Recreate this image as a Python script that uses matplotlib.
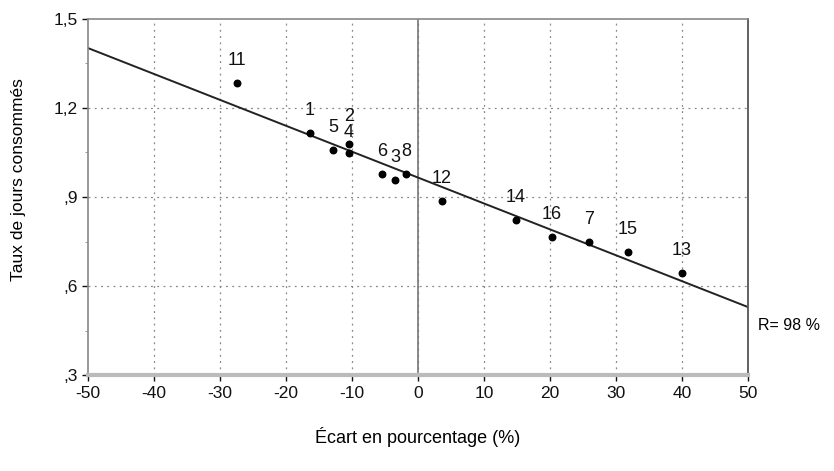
import matplotlib
matplotlib.use("Agg")
import matplotlib.pyplot as plt
from matplotlib.ticker import FixedLocator
import numpy as np

# data
labels = ["11", "1", "5", "2", "4", "6", "3", "8", "12", "14", "16", "7", "15", "13"]
ecart = [-27.4, -16.4, -12.9, -10.45, -10.45, -5.45, -3.5, -1.8, 3.6, 14.8, 20.3, 25.9, 31.8, 40.0]
taux = [1.284, 1.116, 1.058, 1.079, 1.048, 0.978, 0.957, 0.978, 0.887, 0.823, 0.765, 0.748, 0.715, 0.644]

# regression line
line_x = [-50, 50]
intercept = 0.9655
slope = -0.00873

yticks = [0.3, 0.6, 0.9, 1.2, 1.5]
ytick_labels = [",3", ",6", ",9", "1,2", "1,5"]
xticks = list(range(-50, 51, 10))

plt.rcParams['font.family'] = ['Liberation Sans', 'DejaVu Sans']

fig = plt.figure(figsize=(8.34, 4.71), dpi=100)
ax = fig.add_axes([88 / 834, 96 / 471, 660 / 834, 356 / 471])

ax.set_xlim(-50, 50)
ax.set_ylim(0.3, 1.5)

for t in xticks[1:-1]:
    ax.axvline(t, color="#888888", lw=0.9, ls=(0, (1.5, 3.5)), zorder=1)
for t in yticks[1:-1]:
    ax.axhline(t, color="#888888", lw=0.9, ls=(0, (1.5, 3.5)), zorder=1)
ax.axvline(0, color="#777777", lw=1.2, zorder=1)

lx = np.array(line_x)
ax.plot(lx, intercept + slope * lx, color="#222222", lw=1.4, zorder=2)

ax.scatter(ecart, taux, s=22, color="black", zorder=3)
for lab, x, y in zip(labels, ecart, taux):
    dy = {"2": 20, "4": 15}.get(lab, 16)
    ax.annotate(lab, (x, y), xytext=(0, dy), textcoords="offset points",
                ha="center", va="center", fontsize=13, color="#111111")

ax.set_xticks(xticks)
ax.set_xticklabels([str(t) for t in xticks])
ax.set_yticks(yticks)
ax.set_yticklabels(ytick_labels)
ax.yaxis.set_minor_locator(FixedLocator([0.45, 0.75, 1.05, 1.35]))
ax.tick_params(axis="both", labelsize=12.5, colors="#111111", length=4, width=1)
ax.tick_params(axis="y", which="minor", length=2, color="#888888")
ax.tick_params(axis="x", pad=4)

for side in ["top", "left"]:
    ax.spines[side].set_color("#888888")
    ax.spines[side].set_linewidth(1.2)
ax.spines["right"].set_color("#555555")
ax.spines["right"].set_linewidth(1.3)
ax.spines["bottom"].set_color("#bbbbbb")
ax.spines["bottom"].set_linewidth(3)

ax.set_ylabel("Taux de jours consommés", fontsize=12.5)
ax.yaxis.set_label_coords(-0.094, 0.55)
fig.text(418 / 834, 1 - 437 / 471, "Écart en pourcentage (%)", fontsize=13,
         ha="center", va="center")
fig.text(758 / 834, 1 - 325 / 471, "R= 98 %", fontsize=11.5, ha="left", va="center")

fig.savefig("out.png", dpi=100)
